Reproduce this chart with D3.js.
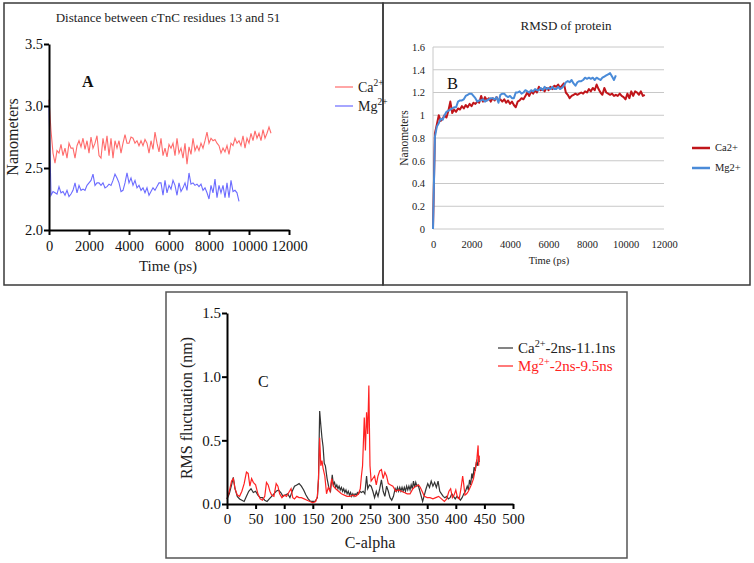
<!DOCTYPE html>
<html><head><meta charset="utf-8">
<script src="https://cdn.jsdelivr.net/npm/d3@7"></script>
<style>
html,body{margin:0;padding:0;background:#fff;}
svg{display:block;font-family:"Liberation Serif","Times New Roman",serif;}
svg text, svg tspan{font-family:"Liberation Serif","Times New Roman",serif;}
</style></head><body><svg id="c" width="754" height="563"></svg>
<script>
// ---------- Panel A : distance between cTnC residues 13 and 51 ----------
const stepA = 100; // ps between samples
const caDistance = [3.05,2.80,2.62,2.54,2.64,2.62,2.69,2.60,2.66,2.58,2.70,2.66,2.66,2.58,2.68,2.72,2.67,2.74,2.65,2.72,
  2.62,2.75,2.66,2.70,2.76,2.60,2.58,2.74,2.64,2.76,2.60,2.74,2.58,2.72,2.66,2.72,2.62,2.70,2.77,2.70,
  2.70,2.75,2.74,2.70,2.72,2.68,2.72,2.68,2.73,2.70,2.62,2.72,2.65,2.79,2.70,2.63,2.74,2.60,2.66,2.59,
  2.69,2.66,2.70,2.60,2.74,2.62,2.66,2.58,2.70,2.53,2.67,2.61,2.74,2.64,2.68,2.64,2.70,2.66,2.72,2.79,
  2.70,2.74,2.72,2.73,2.70,2.68,2.62,2.66,2.63,2.68,2.61,2.70,2.68,2.74,2.70,2.72,2.68,2.76,2.66,2.74,
  2.70,2.78,2.72,2.80,2.74,2.78,2.72,2.81,2.74,2.78,2.83,2.78];
const mgDistance = [3.00,2.28,2.31,2.30,2.29,2.35,2.30,2.31,2.28,2.32,2.27,2.29,2.32,2.38,2.30,2.36,2.32,2.33,2.32,2.36,
  2.38,2.40,2.45,2.36,2.38,2.38,2.36,2.38,2.34,2.35,2.37,2.36,2.40,2.45,2.42,2.38,2.31,2.32,2.38,2.46,
  2.38,2.42,2.36,2.40,2.34,2.36,2.32,2.34,2.30,2.34,2.28,2.31,2.34,2.32,2.35,2.38,2.38,2.28,2.40,2.30,
  2.36,2.33,2.40,2.36,2.28,2.38,2.31,2.34,2.38,2.32,2.46,2.37,2.38,2.36,2.37,2.35,2.37,2.32,2.34,2.30,
  2.25,2.36,2.30,2.41,2.26,2.36,2.30,2.36,2.26,2.38,2.26,2.40,2.31,2.32,2.30,2.23];
const ticksA_x = [0,2000,4000,6000,8000,10000,12000];
const ticksA_y = [2.0,2.5,3.0,3.5];

// ---------- Panel B : RMSD of protein ----------
const stepB = 100;
const caRmsd = [0,0.84,0.92,1.0,0.95,0.97,1.0,0.98,1.04,1.12,1.02,1.05,1.03,1.06,1.05,1.08,1.06,1.09,1.07,1.1,
  1.08,1.11,1.1,1.12,1.11,1.17,1.12,1.16,1.13,1.15,1.12,1.15,1.13,1.16,1.13,1.14,1.12,1.14,1.11,1.13,
  1.1,1.12,1.09,1.07,1.12,1.13,1.15,1.14,1.17,1.2,1.17,1.21,1.19,1.22,1.2,1.25,1.22,1.23,1.21,1.24,
  1.22,1.25,1.23,1.26,1.25,1.27,1.24,1.26,1.28,1.2,1.18,1.15,1.17,1.18,1.19,1.18,1.19,1.2,1.19,1.21,
  1.2,1.23,1.21,1.24,1.22,1.27,1.23,1.2,1.18,1.24,1.2,1.19,1.18,1.19,1.17,1.18,1.17,1.19,1.17,1.16,
  1.14,1.19,1.15,1.21,1.17,1.21,1.2,1.18,1.21,1.17,1.18];
const mgRmsd = [0,0.81,0.9,0.93,0.97,0.96,1.0,1.03,1.04,1.05,1.06,1.07,1.07,1.12,1.13,1.13,1.14,1.17,1.18,1.19,
  1.19,1.17,1.15,1.12,1.13,1.13,1.14,1.12,1.13,1.14,1.15,1.15,1.14,1.16,1.11,1.18,1.19,1.19,1.17,1.16,
  1.17,1.15,1.15,1.2,1.2,1.21,1.19,1.2,1.22,1.21,1.2,1.22,1.21,1.23,1.22,1.22,1.24,1.22,1.25,1.23,
  1.24,1.23,1.25,1.23,1.23,1.25,1.23,1.24,1.26,1.29,1.3,1.29,1.31,1.28,1.26,1.29,1.3,1.3,1.31,1.33,
  1.32,1.33,1.32,1.33,1.31,1.33,1.32,1.31,1.33,1.34,1.35,1.36,1.37,1.34,1.31,1.35];
const ticksB_x = [0,2000,4000,6000,8000,10000,12000];
const ticksB_y = [0,0.2,0.4,0.6,0.8,1,1.2,1.4,1.6];

// ---------- Panel C : RMS fluctuation per C-alpha ----------
const caResidue = [0,4,8,11,14,18,22,26,30,34,38,42,46,50,54,58,62,66,70,74,78,82,86,90,94,98,102,106,110,114,118,122,126,130,134,138,142,146,150,154,158,
  160,162,164,166,168,170,172,175,178,181,184,186,188,190,192,194,196,198,200,202,204,206,208,210,212,214,216,218,220,222,224,226,228,230,232,235,238,241,244,246,249,252,255,258,261,264,267,270,273,276,279,282,285,288,291,294,
  296,298,300,302,304,306,308,310,312,314,316,318,320,322,324,326,328,330,332,334,336,339,342,345,348,351,354,357,360,363,366,369,372,375,378,381,384,387,390,393,396,399,402,405,408,411,414,417,420,422,424,426,428,430,432,434,436,438,440,441];
const caRmsf = [0.04,0.08,0.15,0.21,0.12,0.06,0.04,0.03,0.02,0.06,0.1,0.12,0.09,0.1,0.07,0.05,0.05,0.03,0.02,0.04,0.06,0.08,0.1,0.11,0.09,0.06,0.07,0.08,0.05,0.1,0.14,0.15,0.16,0.14,0.11,0.07,0.04,0.02,0.02,0.02,0.05,
  0.2,0.73,0.62,0.52,0.45,0.32,0.3,0.2,0.13,0.1,0.23,0.15,0.17,0.13,0.15,0.12,0.14,0.11,0.13,0.1,0.12,0.09,0.11,0.08,0.1,0.07,0.09,0.06,0.08,0.06,0.08,0.07,0.09,0.08,0.1,0.09,0.1,0.08,0.22,0.12,0.15,0.14,0.1,0.05,0.1,0.06,0.12,0.19,0.1,0.06,0.14,0.1,0.05,0.03,0.06,0.12,
  0.1,0.13,0.1,0.13,0.1,0.13,0.1,0.13,0.1,0.14,0.11,0.14,0.11,0.15,0.12,0.18,0.13,0.17,0.14,0.15,0.12,0.07,0.02,0.07,0.12,0.16,0.13,0.18,0.14,0.17,0.13,0.18,0.1,0.08,0.06,0.05,0.06,0.04,0.05,0.08,0.06,0.04,0.06,0.05,0.03,0.05,0.08,0.1,0.14,0.11,0.19,0.15,0.24,0.2,0.29,0.26,0.33,0.3,0.38,0.33];
const mgResidue = [0,4,8,11,14,18,22,26,30,34,37,40,43,46,50,54,58,62,66,69,72,75,78,82,86,89,92,96,100,104,108,112,115,118,122,126,130,135,140,145,150,155,158,
  160,162,164,166,168,171,174,177,180,183,186,190,195,200,205,210,215,220,225,230,233,235,237,239,240,242,244,246,248,249,250,252,255,258,261,264,267,270,273,276,279,282,286,290,295,
  300,305,310,315,320,325,330,335,338,342,345,350,355,360,365,370,375,380,384,388,391,394,397,400,403,406,409,412,414,416,419,422,425,428,431,434,437,439,440,441];
const mgRmsf = [0.04,0.1,0.18,0.2,0.12,0.07,0.06,0.1,0.16,0.25,0.24,0.14,0.2,0.17,0.15,0.08,0.04,0.03,0.06,0.17,0.15,0.1,0.07,0.06,0.16,0.14,0.08,0.05,0.07,0.06,0.09,0.12,0.05,0.04,0.06,0.05,0.05,0.04,0.03,0.02,0.01,0.02,0.06,
  0.2,0.52,0.3,0.34,0.28,0.22,0.08,0.13,0.1,0.2,0.14,0.12,0.1,0.08,0.07,0.06,0.06,0.07,0.06,0.08,0.12,0.22,0.3,0.55,0.68,0.42,0.72,0.55,0.93,0.6,0.3,0.18,0.2,0.22,0.15,0.22,0.26,0.27,0.2,0.25,0.22,0.16,0.15,0.14,0.1,
  0.11,0.1,0.09,0.08,0.08,0.12,0.14,0.15,0.13,0.09,0.06,0.05,0.05,0.04,0.05,0.06,0.04,0.02,0.04,0.1,0.12,0.05,0.07,0.11,0.05,0.04,0.12,0.22,0.15,0.07,0.08,0.1,0.13,0.16,0.2,0.27,0.36,0.46,0.3,0.38];
const ticksC_x = [0,50,100,150,200,250,300,350,400,450,500];
const ticksC_y = [0.0,0.5,1.0,1.5];

// =====================================================================
const FONT = "Liberation Serif";
const svg = d3.select("#c");

// frames
svg.append("rect").attr("x",4).attr("y",3).attr("width",379).attr("height",282)
  .attr("fill","none").attr("stroke","#3a3a3a").attr("stroke-width",1.5);
svg.append("rect").attr("x",383).attr("y",3).attr("width",367).attr("height",282)
  .attr("fill","none").attr("stroke","#3a3a3a").attr("stroke-width",1.5);
svg.append("rect").attr("x",166).attr("y",292).attr("width",461).attr("height",266)
  .attr("fill","none").attr("stroke","#555").attr("stroke-width",1.5);

function legendItem(g, x, y, color, base, sup, rest, textColor, fs, lw, len){
  g.append("line").attr("x1",x).attr("x2",x+len).attr("y1",y).attr("y2",y)
    .attr("stroke",color).attr("stroke-width",lw);
  const t = g.append("text").attr("x",x+len+5).attr("y",y+fs*0.33)
    .attr("font-family",FONT).attr("font-size",fs).attr("fill",textColor);
  t.append("tspan").text(base);
  if (sup){
    t.append("tspan").attr("dy",-fs*0.38).attr("font-size",fs*0.68).text(sup);
    t.append("tspan").attr("dy",fs*0.38).text(rest || "");
  } else if (rest) t.append("tspan").text(rest);
}
function txt(g, x, y, s, fs, opts={}){
  const t = g.append("text").attr("x",x).attr("y",y).attr("font-family",FONT).attr("font-size",fs)
    .attr("fill",opts.fill||"#222").attr("text-anchor",opts.anchor||"start").text(s);
  if (opts.weight) t.attr("font-weight",opts.weight);
  if (opts.rotate) t.attr("x",null).attr("y",null).attr("transform",`translate(${x},${y}) rotate(-90)`);
  return t;
}

// ---------------- Panel A ----------------
{
  const g = svg.append("g");
  const x = d3.scaleLinear().domain([0,12000]).range([49,289]);
  const y = d3.scaleLinear().domain([2.0,3.5]).range([230,44]);
  const line = d3.line().x((d,i)=>x(i*stepA)).y(d=>y(d));
  g.append("path").datum(caDistance).attr("d",line).attr("fill","none").attr("stroke","#ff6b6b").attr("stroke-width",1.1);
  g.append("path").datum(mgDistance).attr("d",line).attr("fill","none").attr("stroke","#6b6bff").attr("stroke-width",1.1);

  const ax = g.append("g").attr("transform","translate(0,230)")
    .call(d3.axisBottom(x).tickValues(ticksA_x).tickSize(5).tickSizeOuter(0).tickFormat(d3.format("d")));
  const ay = g.append("g").attr("transform","translate(49,0)")
    .call(d3.axisLeft(y).tickValues(ticksA_y).tickSize(5).tickSizeOuter(0).tickFormat(d3.format(".1f")));
  [ax,ay].forEach(a=>{
    a.attr("font-family",FONT);
    a.select(".domain").attr("stroke","#000").attr("stroke-width",2);
    a.selectAll(".tick line").attr("stroke","#000").attr("stroke-width",2);
    a.selectAll("text").attr("font-family",FONT).attr("font-size",14.5).attr("fill","#111");
  });
  ax.selectAll("text").attr("dy","0.95em").attr("y",7);
  ay.selectAll("text").attr("x",-6);

  txt(g,168,22,"Distance between cTnC residues 13 and 51",13,{anchor:"middle"});
  txt(g,82,87,"A",16,{weight:"bold",fill:"#111"});
  txt(g,168,271,"Time (ps)",15,{anchor:"middle"});
  txt(g,18,137,"Nanometers",16,{anchor:"middle",rotate:true});
  legendItem(g,335,87,"#ff6b6b","Ca","2+","","#222",14,1.2,18);
  legendItem(g,335,106,"#6b6bff","Mg","2+","","#222",14,1.2,18);
}

// ---------------- Panel B ----------------
{
  const g = svg.append("g");
  const x = d3.scaleLinear().domain([0,12000]).range([433,664]);
  const y = d3.scaleLinear().domain([0,1.6]).range([229,47]);
  g.append("g").selectAll("line").data(ticksB_y).join("line")
    .attr("x1",433).attr("x2",664).attr("y1",d=>y(d)).attr("y2",d=>y(d))
    .attr("stroke","#c8c8c8").attr("stroke-width",1);
  g.append("line").attr("x1",433).attr("x2",433).attr("y1",y(0)).attr("y2",y(1.6)).attr("stroke","#c8c8c8");

  const line = d3.line().x((d,i)=>x(i*stepB)).y(d=>y(d));
  g.append("path").datum(caRmsd).attr("d",line).attr("fill","none").attr("stroke","#c0151a").attr("stroke-width",2).attr("stroke-linejoin","round");
  g.append("path").datum(mgRmsd).attr("d",line).attr("fill","none").attr("stroke","#4a8bd8").attr("stroke-width",2).attr("stroke-linejoin","round");

  const ax = g.append("g").attr("transform","translate(0,229)")
    .call(d3.axisBottom(x).tickValues(ticksB_x).tickSize(0).tickFormat(d3.format("d")));
  const ay = g.append("g").attr("transform","translate(433,0)")
    .call(d3.axisLeft(y).tickValues(ticksB_y).tickSize(0).tickFormat(d=>String(+d.toFixed(1))));
  [ax,ay].forEach(a=>{
    a.attr("font-family",FONT);
    a.select(".domain").remove();
    a.selectAll("text").attr("font-family",FONT).attr("font-size",10.5).attr("fill","#222");
  });
  ax.selectAll("text").attr("dy","0.71em").attr("y",12);
  ay.selectAll("text").attr("x",-8);

  txt(g,566,30,"RMSD of protein",13,{anchor:"middle"});
  txt(g,447,89,"B",16.5,{fill:"#111"});
  txt(g,549,264,"Time (ps)",10.5,{anchor:"middle"});
  txt(g,408,138,"Nanometers",11.5,{anchor:"middle",rotate:true});
  legendItem(g,692,148,"#c0151a","Ca2+",null,"","#222",10.5,2.5,18);
  legendItem(g,692,168,"#4a8bd8","Mg2+",null,"","#222",10.5,2.5,18);
}

// ---------------- Panel C ----------------
{
  const g = svg.append("g");
  const x = d3.scaleLinear().domain([0,500]).range([227,513]);
  const y = d3.scaleLinear().domain([0,1.5]).range([504,313]);
  const lineCa = d3.line().x((d,i)=>x(caResidue[i])).y(d=>y(d));
  const lineMg = d3.line().x((d,i)=>x(mgResidue[i])).y(d=>y(d));
  g.append("path").datum(caRmsf).attr("d",lineCa).attr("fill","none").attr("stroke","#333").attr("stroke-width",1.2);
  g.append("path").datum(mgRmsf).attr("d",lineMg).attr("fill","none").attr("stroke","#f22").attr("stroke-width",1.2);

  const ax = g.append("g").attr("transform","translate(0,504)")
    .call(d3.axisBottom(x).tickValues(ticksC_x).tickSize(5).tickSizeOuter(0).tickFormat(d3.format("d")));
  const ay = g.append("g").attr("transform","translate(227,0)")
    .call(d3.axisLeft(y).tickValues(ticksC_y).tickSize(5).tickSizeOuter(0).tickFormat(d3.format(".1f")));
  [ax,ay].forEach(a=>{
    a.attr("font-family",FONT);
    a.select(".domain").attr("stroke","#000").attr("stroke-width",2);
    a.selectAll(".tick line").attr("stroke","#000").attr("stroke-width",2);
    a.selectAll("text").attr("font-family",FONT).attr("font-size",15).attr("fill","#111");
  });
  ax.selectAll("text").attr("y",9).attr("dy","0.71em");
  ay.selectAll("text").attr("x",-6);

  txt(g,258,387,"C",16,{fill:"#111"});
  txt(g,370,548,"C-alpha",16,{anchor:"middle"});
  txt(g,192,408,"RMS fluctuation (nm)",16,{anchor:"middle",rotate:true});
  legendItem(g,498,348,"#333","Ca","2+","-2ns-11.1ns","#222",15,1.2,15);
  legendItem(g,498,366,"#f22","Mg","2+","-2ns-9.5ns","#f22",15,1.2,15);
}
</script></body></html>
